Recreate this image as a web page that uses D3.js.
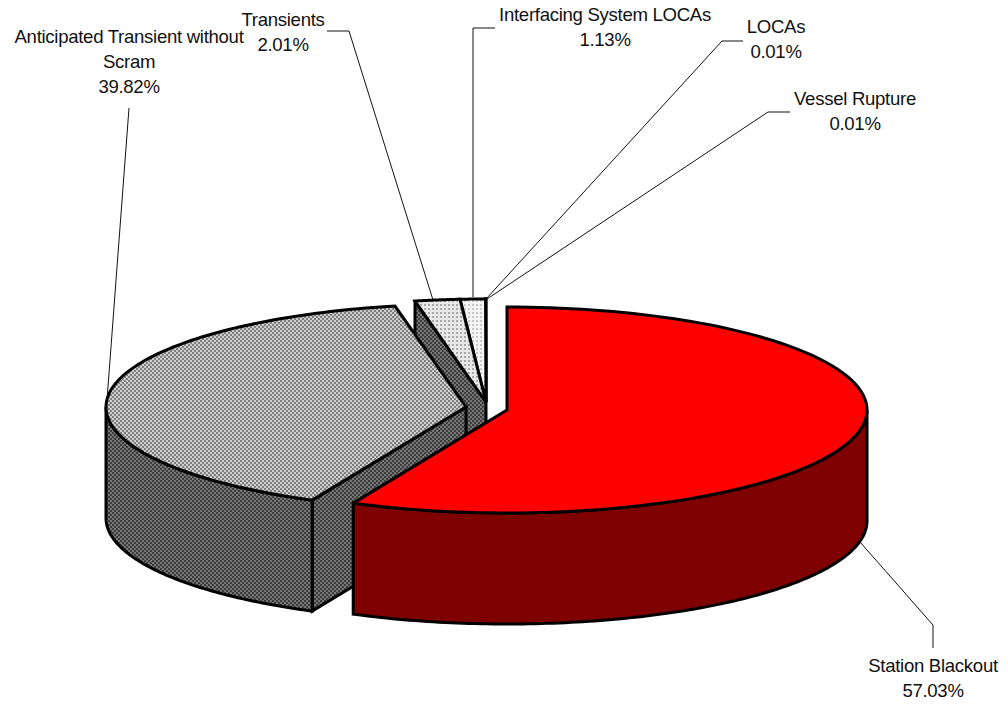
<!DOCTYPE html>
<html>
<head>
<meta charset="utf-8">
<script src="https://cdnjs.cloudflare.com/ajax/libs/d3/7.8.5/d3.min.js"></script>
<style>
html, body { margin: 0; padding: 0; background: #fff; }
svg { display: block; }
text { font-family: "Liberation Sans", Arial, sans-serif; font-size: 18.6px; fill: #111; text-anchor: middle; letter-spacing: -0.3px; }
</style>
</head>
<body>
<div id="chart"></div>
<script>
// Core damage frequency contribution by sequence type
const categories = ["Station Blackout", "Anticipated Transient without Scram", "Transients", "Interfacing System LOCAs", "LOCAs", "Vessel Rupture"];
const shares = [57.03, 39.82, 2.01, 1.13, 0.01, 0.01];
const labelLines = [["Station Blackout"], ["Anticipated Transient without", "Scram"], ["Transients"], ["Interfacing System LOCAs"], ["LOCAs"], ["Vessel Rupture"]];
const sliceCentres = [[507, 410], [466, 407], [486, 402], [486, 402], [486, 402], [486, 402]];
const topFills = ["#ff0000", "url(#gridLight)", "url(#dotsLight)", "url(#dotsPale)", "#ffffff", "#ffffff"];
const wallFills = ["#7f0000", "url(#gridDark)", "url(#gridDark)", "url(#gridDark)", "#7f7f7f", "#7f7f7f"];
const labelAnchors = [[933, 672], [129, 43], [283, 26], [605, 21], [776, 33], [855, 105]];
const leaders = [
  [[933, 648], [933, 625], [860, 542]],
  [[129, 108], [107, 400]],
  [[327, 31], [349, 31], [433, 300]],
  [[495, 28], [473, 28], [473, 297]],
  [[743, 41], [722, 41], [486, 299]],
  [[790, 112], [768, 112], [487, 299]]
];

const W = 1008, H = 704, RX = 360, RY = 103, DEPTH = 111;
const svg = d3.select("#chart").append("svg").attr("width", W).attr("height", H);
const defs = svg.append("defs");

// Checker and dot fills for the greyscale slices
function checker(id, bg, fg, size) {
  const p = defs.append("pattern").attr("id", id).attr("patternUnits", "userSpaceOnUse")
    .attr("width", size).attr("height", size);
  p.append("rect").attr("width", size).attr("height", size).attr("fill", bg);
  [[0, 0], [size / 2, size / 2]].forEach(c =>
    p.append("rect").attr("x", c[0]).attr("y", c[1]).attr("width", size / 2).attr("height", size / 2).attr("fill", fg));
}
function rows(id, bg, fg, w, h) {
  const p = defs.append("pattern").attr("id", id).attr("patternUnits", "userSpaceOnUse")
    .attr("width", w).attr("height", h);
  p.append("rect").attr("width", w).attr("height", h).attr("fill", bg);
  p.append("rect").attr("width", w / 2).attr("height", h / 2).attr("fill", fg);
}
checker("gridLight", "#cecece", "#7e7e7e", 4);
checker("gridDark", "#767676", "#3c3c3c", 4);
rows("dotsLight", "#e8e8e8", "#a8a8a8", 4, 4);
rows("dotsPale", "#f4f4f4", "#c8c8c8", 4, 4);

const arcs = d3.pie().sort(null).value(d => d)(shares);
const ellipse = (c, a, dy = 0) => [c[0] + RX * Math.sin(a), c[1] - RY * Math.cos(a) + dy];
const line = d3.line();
const sweep = (c, a0, a1, dy = 0) => d3.range(0, 121).map(i => ellipse(c, a0 + (a1 - a0) * i / 120, dy));
const outlined = sel => sel.attr("stroke", "#000").attr("stroke-width", 3).attr("stroke-linejoin", "miter").attr("stroke-miterlimit", 3);

const seq = arcs.map((a, i) => ({ a, i, c: sliceCentres[i] }));

// Back slices first, then the grey slice, then the red one in front
[5, 4, 3, 2, 1, 0].forEach(i => {
  const { a, c } = seq[i];
  const g = svg.append("g");
  const visibleStart = Math.max(a.startAngle, Math.PI / 2);
  const visibleEnd = Math.min(a.endAngle, 3 * Math.PI / 2);

  // Radial wall facing the viewer on the transients and grey slices
  if (i === 1 || i === 2) {
    const rim = ellipse(c, a.startAngle);
    outlined(g.append("path")).attr("fill", wallFills[i])
      .attr("d", line([c, rim, [rim[0], rim[1] + DEPTH], [c[0], c[1] + DEPTH]]) + "Z");
  }
  // Curved outer wall
  if (visibleEnd > visibleStart) {
    const upper = sweep(c, visibleStart, visibleEnd);
    const lower = sweep(c, visibleEnd, visibleStart, DEPTH);
    outlined(g.append("path")).attr("fill", wallFills[i]).attr("d", line(upper.concat(lower)) + "Z");
  }
  // Top face
  outlined(g.append("path")).attr("fill", topFills[i])
    .attr("d", line([c].concat(sweep(c, a.startAngle, a.endAngle))) + "Z");
});

// Leader lines
svg.append("g").selectAll("path").data(leaders).join("path")
  .attr("d", d => line(d)).attr("fill", "none").attr("stroke", "#111").attr("stroke-width", 1);

// Labels with name and share on separate lines
const labels = svg.append("g").selectAll("text").data(categories).join("text")
  .attr("transform", (d, i) => `translate(${labelAnchors[i][0]},${labelAnchors[i][1]})`);
labels.each(function (d, i) {
  const t = d3.select(this);
  labelLines[i].concat([d3.format(".2f")(shares[i]) + "%"]).forEach((s, k) => {
    t.append("tspan").attr("x", 0).attr("dy", k ? 25 : 0).text(s);
  });
});
</script>
</body>
</html>
